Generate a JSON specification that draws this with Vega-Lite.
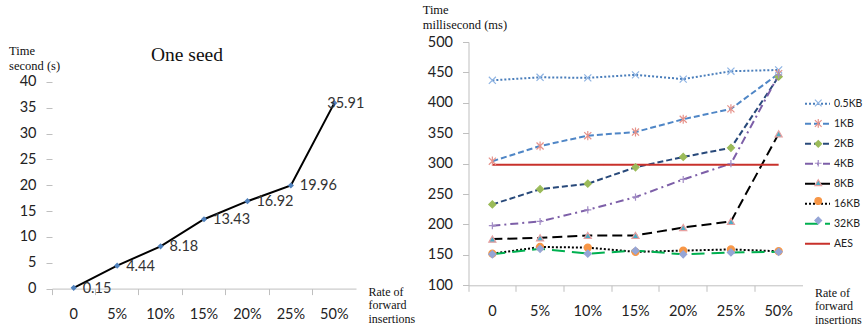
{
  "$schema": "https://vega.github.io/schema/vega-lite/v6.json",
  "background": "white",
  "padding": {"left": 8, "top": 3, "right": 0, "bottom": 0},
  "config": {
    "view": {"stroke": null},
    "font": "Lato",
    "axis": {"grid": false, "domainColor": "#BFBFBF", "tickColor": "#BFBFBF", "tickSize": 6, "labelFont": "Lato", "labelFontSize": 14.5, "labelColor": "#222222", "titleFont": "Liberation Serif", "titleFontWeight": "normal", "titleFontSize": 12.5, "titleColor": "#111111", "titleAngle": 0}
  },
  "datasets": {
    "oneseed": [
      {"rate": "0", "s": 0.15}, {"rate": "5%", "s": 4.44}, {"rate": "10%", "s": 8.18},
      {"rate": "15%", "s": 13.43}, {"rate": "20%", "s": 16.92}, {"rate": "25%", "s": 19.96}, {"rate": "50%", "s": 35.91}
    ],
    "sizes": [
      {"rate": "0", "series": "0.5KB", "ms": 437}, {"rate": "5%", "series": "0.5KB", "ms": 442}, {"rate": "10%", "series": "0.5KB", "ms": 441}, {"rate": "15%", "series": "0.5KB", "ms": 446}, {"rate": "20%", "series": "0.5KB", "ms": 439}, {"rate": "25%", "series": "0.5KB", "ms": 452}, {"rate": "50%", "series": "0.5KB", "ms": 454},
      {"rate": "0", "series": "1KB", "ms": 304}, {"rate": "5%", "series": "1KB", "ms": 329}, {"rate": "10%", "series": "1KB", "ms": 346}, {"rate": "15%", "series": "1KB", "ms": 352}, {"rate": "20%", "series": "1KB", "ms": 373}, {"rate": "25%", "series": "1KB", "ms": 390}, {"rate": "50%", "series": "1KB", "ms": 448},
      {"rate": "0", "series": "2KB", "ms": 233}, {"rate": "5%", "series": "2KB", "ms": 258}, {"rate": "10%", "series": "2KB", "ms": 267}, {"rate": "15%", "series": "2KB", "ms": 294}, {"rate": "20%", "series": "2KB", "ms": 311}, {"rate": "25%", "series": "2KB", "ms": 326}, {"rate": "50%", "series": "2KB", "ms": 443},
      {"rate": "0", "series": "4KB", "ms": 198}, {"rate": "5%", "series": "4KB", "ms": 205}, {"rate": "10%", "series": "4KB", "ms": 224}, {"rate": "15%", "series": "4KB", "ms": 245}, {"rate": "20%", "series": "4KB", "ms": 274}, {"rate": "25%", "series": "4KB", "ms": 300}, {"rate": "50%", "series": "4KB", "ms": 446},
      {"rate": "0", "series": "8KB", "ms": 176}, {"rate": "5%", "series": "8KB", "ms": 178}, {"rate": "10%", "series": "8KB", "ms": 182}, {"rate": "15%", "series": "8KB", "ms": 182}, {"rate": "20%", "series": "8KB", "ms": 195}, {"rate": "25%", "series": "8KB", "ms": 205}, {"rate": "50%", "series": "8KB", "ms": 349},
      {"rate": "0", "series": "16KB", "ms": 152}, {"rate": "5%", "series": "16KB", "ms": 163}, {"rate": "10%", "series": "16KB", "ms": 162}, {"rate": "15%", "series": "16KB", "ms": 155}, {"rate": "20%", "series": "16KB", "ms": 157}, {"rate": "25%", "series": "16KB", "ms": 159}, {"rate": "50%", "series": "16KB", "ms": 156},
      {"rate": "0", "series": "32KB", "ms": 151}, {"rate": "5%", "series": "32KB", "ms": 160}, {"rate": "10%", "series": "32KB", "ms": 152}, {"rate": "15%", "series": "32KB", "ms": 157}, {"rate": "20%", "series": "32KB", "ms": 151}, {"rate": "25%", "series": "32KB", "ms": 154}, {"rate": "50%", "series": "32KB", "ms": 155},
      {"rate": "0", "series": "AES", "ms": 298}, {"rate": "5%", "series": "AES", "ms": 298}, {"rate": "10%", "series": "AES", "ms": 298}, {"rate": "15%", "series": "AES", "ms": 298}, {"rate": "20%", "series": "AES", "ms": 298}, {"rate": "25%", "series": "AES", "ms": 298}, {"rate": "50%", "series": "AES", "ms": 298}
    ]
  },
  "spacing": 6.5,
  "bounds": "full",
  "hconcat": [
    {
      "width": 304,
      "height": 246.6,
      "title": {"text": "One seed", "font": "Liberation Serif", "fontSize": 19.5, "fontWeight": "normal", "color": "#111111", "dx": -17, "baseline": "alphabetic", "offset": -38.3},
      "data": {"name": "oneseed"},
      "encoding": {
        "x": {"field": "rate", "type": "ordinal", "sort": ["0", "5%", "10%", "15%", "20%", "25%", "50%"],
              "scale": {"type": "band", "paddingInner": 0, "paddingOuter": 0},
              "axis": {"title": ["Rate of", "forward", "insertions"], "labelAngle": 0, "bandPosition": 0, "labelPadding": 13,
                       "titleAlign": "left", "titleBaseline": "alphabetic", "titleX": 316, "titleY": 6.7, "titleFontSize": 12, "titleLineHeight": 13.5}},
        "y": {"field": "s", "type": "quantitative", "scale": {"domain": [0, 47.74], "nice": false},
              "axis": {"values": [0, 5, 10, 15, 20, 25, 30, 35, 40], "domain": false, "labelPadding": 10, "title": ["Time", "second (s)"],
                       "titleAlign": "left", "titleBaseline": "alphabetic", "titleX": -43.4, "titleY": 12, "titleLineHeight": 15}}
      },
      "layer": [
        {"data": {"values": [{}]},
         "mark": {"type": "rule", "color": "#BFBFBF", "strokeWidth": 1},
         "encoding": {"x": {"datum": "0", "bandPosition": 0}, "y": {"datum": 0}, "y2": {"datum": 40}}},
        {"mark": {"type": "line", "color": "black", "strokeWidth": 2}},
        {"mark": {"type": "point", "shape": "diamond", "filled": true, "color": "#4F81BD", "size": 38, "opacity": 1}},
        {"transform": [{"filter": "datum.rate != '50%'"}],
         "mark": {"type": "text", "align": "left", "baseline": "middle", "dx": 9, "dy": 1, "font": "Lato", "fontSize": 14.5, "color": "#333333"},
         "encoding": {"text": {"field": "s", "type": "quantitative", "format": ".2f"}}},
        {"transform": [{"filter": "datum.rate == '50%'"}],
         "mark": {"type": "text", "align": "left", "baseline": "middle", "dx": -7, "dy": 1, "font": "Lato", "fontSize": 14.5, "color": "#333333"},
         "encoding": {"text": {"field": "s", "type": "quantitative", "format": ".2f"}}}
      ]
    },
    {
      "width": 334,
      "height": 243.3,
      "data": {"name": "sizes"},
      "encoding": {
        "x": {"field": "rate", "type": "ordinal", "sort": ["0", "5%", "10%", "15%", "20%", "25%", "50%"],
              "scale": {"type": "band", "paddingInner": 0, "paddingOuter": 0},
              "axis": {"title": ["Rate of", "forward", "insertions"], "labelAngle": 0, "bandPosition": 0, "labelPadding": 13,
                       "titleAlign": "left", "titleBaseline": "alphabetic", "titleX": 346, "titleY": 11, "titleFontSize": 12, "titleLineHeight": 13.5}},
        "y": {"field": "ms", "type": "quantitative", "scale": {"domain": [100, 500], "nice": false},
              "axis": {"values": [100, 150, 200, 250, 300, 350, 400, 450, 500], "labelPadding": 10, "title": ["Time", "millisecond (ms)"],
                       "titleAlign": "left", "titleBaseline": "alphabetic", "titleX": -46.3, "titleY": -28.4, "titleLineHeight": 15}}
      },
      "layer": [
        {"mark": {"type": "line", "strokeCap": "butt"},
         "encoding": {
           "color": {"field": "series", "type": "nominal",
                     "scale": {"domain": ["0.5KB", "1KB", "2KB", "4KB", "8KB", "16KB", "32KB", "AES"],
                               "range": ["#4A7EBB", "#4F86C6", "#28497A", "#7D5FA8", "#000000", "#000000", "#00B050", "#C8312B"]},
                     "legend": {"title": null, "orient": "none", "legendX": 752, "legendY": 48.3, "symbolType": "stroke", "symbolSize": 625, "symbolStrokeWidth": 2,
                                "labelFont": "Lato", "labelFontSize": 10.5, "labelColor": "#222222", "labelOffset": 3, "rowPadding": 1}},
           "strokeDash": {"field": "series", "type": "nominal",
                     "scale": {"domain": ["0.5KB", "1KB", "2KB", "4KB", "8KB", "16KB", "32KB", "AES"],
                               "range": [[2, 2], [6, 3], [6, 3], [8, 4, 2, 4], [10, 5], [2, 2], [13, 7], [1, 0]]},
                     "legend": {"title": null, "orient": "none", "legendX": 752, "legendY": 48.3, "symbolType": "stroke", "symbolSize": 625, "symbolStrokeWidth": 2,
                                "labelFont": "Lato", "labelFontSize": 10.5, "labelColor": "#222222", "labelOffset": 3, "rowPadding": 1}},
           "strokeWidth": {"field": "series", "type": "nominal",
                     "scale": {"domain": ["0.5KB", "1KB", "2KB", "4KB", "8KB", "16KB", "32KB", "AES"],
                               "range": [2, 2, 2, 2, 2.2, 2, 2, 3]}, "legend": null}
         }},
        {"transform": [{"filter": "datum.series != 'AES'"}],
         "mark": {"type": "point", "filled": true, "opacity": 1, "strokeWidth": 1.2, "size": 50},
         "encoding": {
           "shape": {"field": "series", "type": "nominal",
                     "scale": {"domain": ["0.5KB", "1KB", "2KB", "4KB", "8KB", "16KB", "32KB"],
                               "range": ["M-1,-1L1,1M-1,1L1,-1", "M-1,-1L1,1M-1,1L1,-1M0,-1.3L0,1.3", "diamond", "M-1,0L1,0M0,-1L0,1", "triangle-up", "circle", "diamond"]},
                     "legend": {"title": "m", "titleFontSize": 1, "titleOpacity": 0, "titlePadding": 0, "orient": "none", "legendX": 761, "legendY": 54.8, "symbolSize": 45, "symbolStrokeWidth": 1.2,
                                "labelFont": "Lato", "labelFontSize": 10.5, "labelOpacity": 0, "labelOffset": 3, "rowPadding": 6.4,
                                "encode": {"symbols": {"update": {"stroke": {"signal": "datum.value === '0.5KB' ? '#8FB4E3' : datum.value === '1KB' ? '#E6928A' : datum.value === '2KB' ? '#9BBB59' : datum.value === '4KB' ? '#A28CC5' : datum.value === '8KB' ? '#E6A0A0' : datum.value === '16KB' ? '#F79646' : '#95A5D6'"}}}}}},
           "fill": {"field": "series", "type": "nominal",
                     "scale": {"domain": ["0.5KB", "1KB", "2KB", "4KB", "8KB", "16KB", "32KB"],
                               "range": ["#8FB4E3", "#E6928A", "#9BBB59", "#A28CC5", "#4BACC6", "#F79646", "#95A5D6"]},
                     "legend": {"title": "m", "titleFontSize": 1, "titleOpacity": 0, "titlePadding": 0, "orient": "none", "legendX": 761, "legendY": 54.8, "symbolSize": 45, "symbolStrokeWidth": 1.2,
                                "labelFont": "Lato", "labelFontSize": 10.5, "labelOpacity": 0, "labelOffset": 3, "rowPadding": 6.4,
                                "encode": {"symbols": {"update": {"stroke": {"signal": "datum.value === '0.5KB' ? '#8FB4E3' : datum.value === '1KB' ? '#E6928A' : datum.value === '2KB' ? '#9BBB59' : datum.value === '4KB' ? '#A28CC5' : datum.value === '8KB' ? '#E6A0A0' : datum.value === '16KB' ? '#F79646' : '#95A5D6'"}}}}}},
           "stroke": {"field": "series", "type": "nominal", "legend": null,
                     "scale": {"domain": ["0.5KB", "1KB", "2KB", "4KB", "8KB", "16KB", "32KB"],
                               "range": ["#8FB4E3", "#E6928A", "#9BBB59", "#A28CC5", "#E6A0A0", "#F79646", "#95A5D6"]}}
         }}
      ]
    }
  ]
}
